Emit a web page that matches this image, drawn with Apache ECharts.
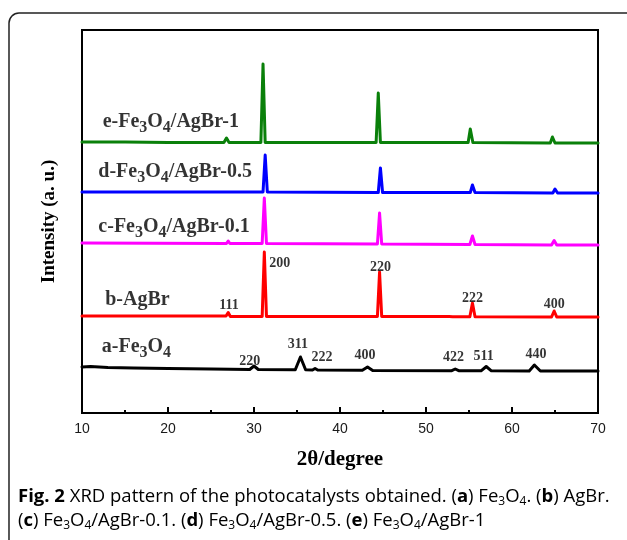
<!DOCTYPE html>
<html><head><meta charset="utf-8">
<script src="https://cdn.jsdelivr.net/npm/echarts@6/dist/echarts.min.js"></script>
<style>html,body{margin:0;padding:0;background:#fff}#c{width:627px;height:540px}</style>
</head><body><div id="c"></div>
<script>
// 2θ (degree) vs intensity (a.u., stacked patterns)
const seriesNames = ['a-Fe3O4', 'b-AgBr', 'c-Fe3O4/AgBr-0.1', 'd-Fe3O4/AgBr-0.5', 'e-Fe3O4/AgBr-1'];
const seriesColors = ['#000000', '#ff0000', '#ff00ff', '#0000ff', '#0a800a'];

const patternA = [[10,46],[11,46.5],[13,45.5],[16,45],[20,44.5],[25,44],[29.5,43.5],[30.0,47],[30.5,43.5],[34.8,43.2],[35.4,56],[36.0,43.2],[36.8,43],[37.1,44.5],[37.4,43],[42.6,42.8],[43.2,46],[43.8,42.6],[53.0,42.3],[53.4,44],[53.8,42.3],[56.4,42.2],[57.0,46.5],[57.6,42.2],[62.0,42],[62.6,48],[63.3,42],[70,42]];
const patternB = [[10,97],[26.75,97],[27.0,100.5],[27.25,96.5],[30.95,96.5],[31.2,161],[31.45,96.5],[44.35,96.5],[44.6,141],[44.85,96.5],[52.7,96.5],[52.9,98],[53.1,96.3],[55.1,96.3],[55.4,110],[55.7,96.2],[64.6,96],[64.9,102],[65.2,96],[70,96]];
const patternC = [[10,170],[26.8,169.5],[27.0,172],[27.2,169.5],[30.95,169.5],[31.2,215],[31.45,169.5],[44.35,169],[44.6,200],[44.85,169],[55.1,168.5],[55.4,177],[55.7,168.5],[64.6,168],[64.9,172.5],[65.2,168],[70,168]];
const patternD = [[10,221],[27,221],[27.2,223],[27.4,221],[31.05,221],[31.3,258],[31.55,221],[44.45,220.5],[44.7,245],[44.95,220.5],[53.3,220.5],[53.5,222],[53.7,220.5],[55.15,220.5],[55.4,228],[55.7,220.5],[64.75,220],[65,224],[65.3,220],[70,220]];
const patternE = [[10,271],[15,271],[20,270.5],[26.5,270.5],[26.8,275],[27.1,270.5],[30.8,270.5],[31.05,349],[31.3,270.5],[38,270.5],[44.2,270.5],[44.45,320],[44.7,270.5],[52.3,270.5],[52.5,272],[52.7,270.5],[54.9,270.5],[55.15,284],[55.45,270.5],[64.45,270],[64.7,276],[65,270],[70,270]];
const patterns = [patternA, patternB, patternC, patternD, patternE];

// reflection (hkl) annotations: [2θ, intensity, text]
const peakLabels = [
  [33.0,150,'200'],[27.1,108,'111'],[44.7,146,'220'],[55.4,115,'222'],[64.9,109,'400'],
  [29.5,52,'220'],[35.1,69,'311'],[37.9,56,'222'],[42.9,58,'400'],[53.2,56,'422'],[56.7,57,'511'],[62.8,59,'440']
];
// sample name labels: [2θ, intensity]
const nameAnchors = [[12.3,66],[12.7,113],[11.9,186],[11.9,241],[12.4,291]];

const xTicks = [10, 20, 30, 40, 50, 60, 70];

function sub(text){
  return text.replace(/([A-Za-z])([0-9])/g, function(m,a,b){return a + '{s|' + b + '}';})
             .split(/(\{s\|[0-9]\})/).map(function(t){
               if (!t) return '';
               if (t.indexOf('{s|')===0) return t;
               return '{n|' + t + '}';
             }).join('');
}

const chart = echarts.init(document.getElementById('c'));
const series = patterns.map(function(p, i){
  return {
    type: 'line', name: seriesNames[i], data: p, showSymbol: false, symbol: 'none',
    lineStyle: {color: seriesColors[i], width: 3, join: 'round', cap: 'round'},
    itemStyle: {color: seriesColors[i]}, animation: false, z: 2
  };
});
series.push({
  type: 'scatter', symbolSize: 0, silent: true, animation: false, z: 5,
  data: peakLabels.map(function(d){ return {value: [d[0], d[1]], name: d[2]}; }),
  label: {show: true, position: 'inside', formatter: '{b}', color: '#000',
    fontFamily: 'Liberation Serif', fontWeight: 'bold', fontSize: 14}
});
series.push({
  type: 'scatter', symbolSize: 0, silent: true, animation: false, z: 5,
  data: nameAnchors.map(function(d, i){
    return {value: d, name: seriesNames[i], label: {formatter: sub(seriesNames[i])}};
  }),
  label: {show: true, position: 'right', distance: 0, color: '#000',
    rich: {
      n: {fontFamily: 'Liberation Serif', fontWeight: 'bold', fontSize: 20, color: '#000'},
      s: {fontFamily: 'Liberation Serif', fontWeight: 'bold', fontSize: 16, color: '#000', padding: [12,0,0,0]}
    }}
});

const capRich = {
  t: {fontFamily: 'Open Sans', fontSize: 18.5, color: '#3a3a3a'},
  b: {fontFamily: 'Open Sans', fontSize: 18.5, fontWeight: 'bold', color: '#3a3a3a'},
  s: {fontFamily: 'Open Sans', fontSize: 12, color: '#3a3a3a', padding: [10,0,0,0]}
};

chart.setOption({
  animation: false,
  grid: {left: 82, right: 29, top: 30, bottom: 127, show: true, borderColor: '#000', borderWidth: 2, backgroundColor: 'transparent'},
  xAxis: {
    type: 'value', min: 10, max: 70, interval: 10,
    name: '2θ/degree', nameLocation: 'middle', nameGap: 36,
    nameTextStyle: {fontFamily: 'Liberation Serif', fontWeight: 'bold', fontSize: 21, color: '#000'},
    axisLine: {show: true, lineStyle: {color: '#000', width: 2}},
    axisTick: {show: true, inside: true, length: 6, lineStyle: {color: '#000', width: 2}},
    minorTick: {show: true, splitNumber: 2, length: 3, lineStyle: {color: '#000', width: 2}},
    axisLabel: {fontFamily: 'Liberation Sans', fontSize: 14, color: '#1a1a1a', margin: 9,
      formatter: function(v){ return xTicks.indexOf(v) >= 0 ? String(v) : ''; }},
    splitLine: {show: false}
  },
  yAxis: {
    type: 'value', min: 0, max: 383,
    name: 'Intensity (a. u.)', nameLocation: 'middle', nameGap: 23,
    nameTextStyle: {fontFamily: 'Liberation Serif', fontWeight: 'bold', fontSize: 19, color: '#000'},
    axisLine: {show: false}, axisTick: {show: false}, axisLabel: {show: false}, splitLine: {show: false}
  },
  graphic: [
    {type: 'rect', shape: {x: 9, y: 13, width: 650, height: 580, r: 10}, style: {fill: 'none', stroke: '#222', lineWidth: 1.5}, silent: true},
    {type: 'text', left: 18, top: 487, style: {
      text: '{b|Fig. 2}{t| XRD pattern of the photocatalysts obtained. (}{b|a}{t|) Fe}{s|3}{t|O}{s|4}{t|. (}{b|b}{t|) AgBr.}',
      rich: capRich}},
    {type: 'text', left: 18, top: 511, style: {
      text: '{t|(}{b|c}{t|) Fe}{s|3}{t|O}{s|4}{t|/AgBr-0.1. (}{b|d}{t|) Fe}{s|3}{t|O}{s|4}{t|/AgBr-0.5. (}{b|e}{t|) Fe}{s|3}{t|O}{s|4}{t|/AgBr-1}',
      rich: capRich}}
  ],
  series: series
});
</script></body></html>
